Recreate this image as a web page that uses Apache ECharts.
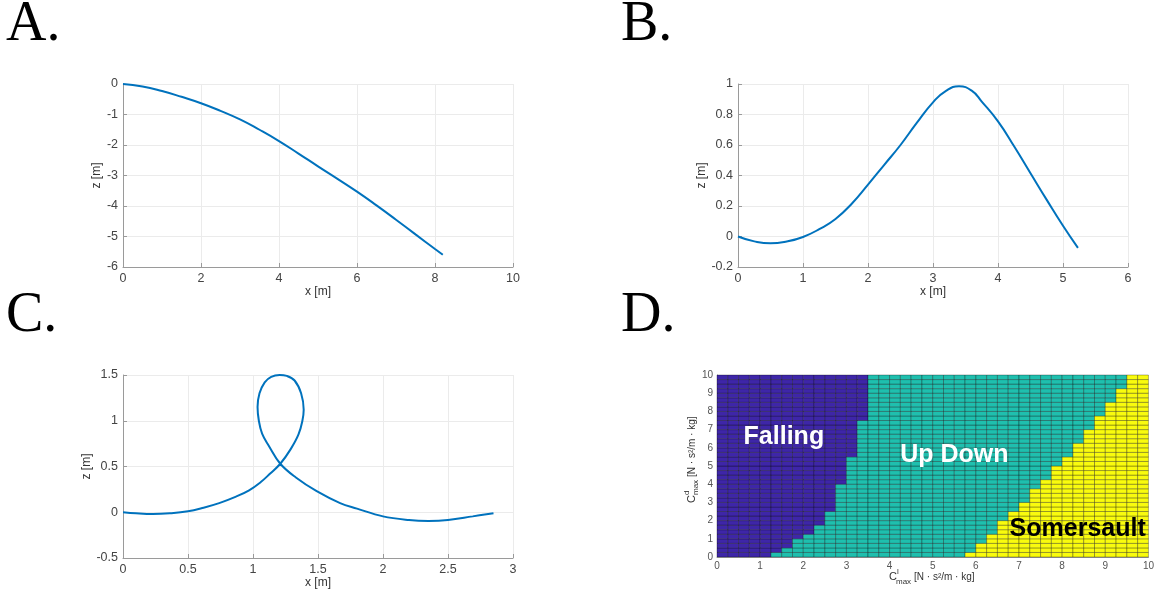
<!DOCTYPE html>
<html>
<head>
<meta charset="utf-8">
<script src="https://cdn.jsdelivr.net/npm/echarts@6/dist/echarts.min.js"></script>
<style>
  html, body { margin: 0; padding: 0; background: #fff; }
  #main { width: 1157px; height: 590px; }
</style>
</head>
<body>
<div id="main"></div>
<script>
// A. falling trajectory
const fallX = [0, 0.5, 1, 1.5, 2, 2.5, 3, 3.5, 4, 4.5, 5, 5.5, 6, 6.5, 7, 7.5, 8, 8.2];
const fallZ = [0, -0.08, -0.23, -0.42, -0.63, -0.88, -1.16, -1.5, -1.87, -2.28, -2.7, -3.11, -3.53, -3.98, -4.45, -4.93, -5.41, -5.6];

// B. up-down trajectory
const upDownX = [0, 0.25, 0.5, 0.75, 1, 1.25, 1.5, 1.75, 2, 2.25, 2.5, 2.75, 3, 3.2, 3.4, 3.6, 3.75, 4, 4.25, 4.5, 4.75, 5, 5.23];
const upDownZ = [0, -0.032, -0.045, -0.033, -0.003, 0.048, 0.115, 0.215, 0.34, 0.47, 0.6, 0.745, 0.88, 0.955, 0.985, 0.955, 0.885, 0.755, 0.59, 0.415, 0.24, 0.07, -0.075];

// C. somersault trajectory (points in path order, it loops)
const loopX = [0, 0.1, 0.23, 0.36, 0.5, 0.62, 0.74, 0.86, 0.97, 1.06, 1.13, 1.21, 1.29, 1.35, 1.38, 1.39, 1.37, 1.32, 1.26, 1.205,
               1.14, 1.09, 1.05, 1.035, 1.045, 1.07, 1.12, 1.21, 1.33, 1.49, 1.67, 1.8, 2.0, 2.2, 2.35, 2.5, 2.69, 2.85];
const loopZ = [0, -0.012, -0.02, -0.012, 0.01, 0.05, 0.1, 0.165, 0.24, 0.33, 0.42, 0.53, 0.69, 0.85, 1.0, 1.12, 1.3, 1.44, 1.49, 1.5,
               1.48, 1.42, 1.3, 1.15, 1.0, 0.86, 0.73, 0.53, 0.38, 0.23, 0.1, 0.04, -0.045, -0.085, -0.095, -0.085, -0.045, -0.01];

// D. regime map, one entry per row of C^d_max (step 0.25): C^l_max where each regime starts
const cellStep = 0.25;
const upDownStart = [1.25, 1.5, 1.75, 1.75, 2.0, 2.25, 2.25, 2.5, 2.5, 2.5,
                     2.75, 2.75, 2.75, 2.75, 2.75, 2.75, 3.0, 3.0, 3.0, 3.0,
                     3.0, 3.0, 3.25, 3.25, 3.25, 3.25, 3.25, 3.25, 3.25, 3.25,
                     3.5, 3.5, 3.5, 3.5, 3.5, 3.5, 3.5, 3.5, 3.5, 3.5];
const somersaultStart = [5.75, 6.0, 6.0, 6.25, 6.25, 6.5, 6.5, 6.5, 6.75, 6.75,
                         7.0, 7.0, 7.25, 7.25, 7.25, 7.5, 7.5, 7.75, 7.75, 7.75,
                         8.0, 8.0, 8.25, 8.25, 8.25, 8.5, 8.5, 8.5, 8.75, 8.75,
                         8.75, 9.0, 9.0, 9.0, 9.25, 9.25, 9.25, 9.5, 9.5, 9.5];
const regimeNames = ['Falling', 'Up Down', 'Somersault'];

function zip(xs, ys) {
    return xs.map(function (x, i) { return [x, ys[i]]; });
}

// build the cells of the map
const cells = [];
for (let r = 0; r < upDownStart.length; r++) {
    for (let c = 0; c < 10 / cellStep; c++) {
        const x = c * cellStep, y = r * cellStep;
        const k = x >= somersaultStart[r] ? 2 : (x >= upDownStart[r] ? 1 : 0);
        cells.push([x, y, k]);
    }
}
const cellColors = ['#3e26a8', '#1fbfae', '#f9fb0e'];

const gray = '#9a9a9a';
function lineAxis(gridIndex, min, max, step, name, gap) {
    return {
        type: 'value', gridIndex: gridIndex, min: min, max: max, interval: step,
        name: name, nameLocation: 'middle', nameGap: gap,
        nameTextStyle: {color: '#333', fontSize: 12, fontFamily: 'Liberation Sans'},
        axisLine: {show: true, onZero: false, lineStyle: {color: gray}},
        axisTick: {show: true, inside: true, length: 4, lineStyle: {color: gray}},
        splitLine: {show: true, lineStyle: {color: '#ebebeb'}},
        axisLabel: {color: '#444', fontSize: 12.5, fontFamily: 'Liberation Sans', margin: 5}
    };
}
function mapAxis(gridIndex) {
    return {
        type: 'value', gridIndex: gridIndex, min: 0, max: 10, interval: 1,
        axisLine: {show: true, onZero: false, lineStyle: {color: gray}},
        axisTick: {show: false},
        splitLine: {show: false},
        axisLabel: {color: '#555', fontSize: 10, fontFamily: 'Liberation Sans', margin: 4}
    };
}
function lineSeries(i, data, smooth) {
    return {
        type: 'line', xAxisIndex: i, yAxisIndex: i, data: data,
        showSymbol: false, smooth: smooth, silent: true,
        lineStyle: {color: '#0072bd', width: 2}
    };
}
function letter(t, x, y) {
    return {type: 'text', x: x, y: y, style: {text: t, font: '56px "Liberation Serif"', fill: '#000', textVerticalAlign: 'middle'}};
}
function small(t, x, y, size) {
    return {type: 'text', x: x, y: y, style: {text: t, font: size + 'px "Liberation Sans"', fill: '#333', textVerticalAlign: 'middle'}};
}

const myChart = echarts.init(document.getElementById('main'));
myChart.setOption({
    animation: false,
    backgroundColor: '#fff',
    grid: [
        {left: 123, top: 84, width: 390, height: 183},
        {left: 738, top: 84, width: 390, height: 183},
        {left: 123, top: 375, width: 390, height: 183},
        {left: 717, top: 375, width: 433, height: 182}
    ],
    xAxis: [
        lineAxis(0, 0, 10, 2, 'x [m]', 17),
        lineAxis(1, 0, 6, 1, 'x [m]', 17),
        lineAxis(2, 0, 3, 0.5, 'x [m]', 17),
        mapAxis(3)
    ],
    yAxis: [
        lineAxis(0, -6, 0, 1, 'z [m]', 16),
        lineAxis(1, -0.2, 1, 0.2, 'z [m]', 24),
        lineAxis(2, -0.5, 1.5, 0.5, 'z [m]', 25),
        mapAxis(3)
    ],
    series: [
        lineSeries(0, zip(fallX, fallZ), 0.5),
        lineSeries(1, zip(upDownX, upDownZ), 0.5),
        lineSeries(2, zip(loopX, loopZ), 0.4),
        {
            type: 'custom', xAxisIndex: 3, yAxisIndex: 3, silent: true,
            encode: {x: 0, y: 1},
            data: cells,
            renderItem: function (params, api) {
                const p0 = api.coord([api.value(0), api.value(1) + cellStep]);
                const p1 = api.coord([api.value(0) + cellStep, api.value(1)]);
                return {
                    type: 'rect',
                    shape: {x: p0[0], y: p0[1], width: p1[0] - p0[0], height: p1[1] - p0[1]},
                    style: {fill: cellColors[api.value(2)], stroke: 'rgba(0,0,0,0.6)', lineWidth: 0.5}
                };
            }
        },
        {
            type: 'scatter', xAxisIndex: 3, yAxisIndex: 3, silent: true,
            symbolSize: 1, itemStyle: {color: 'rgba(0,0,0,0)', opacity: 1},
            label: {
                show: true, position: 'inside', formatter: '{b}',
                fontSize: 25, fontWeight: 'bold', fontFamily: 'Liberation Sans'
            },
            data: [
                {name: regimeNames[0], value: [1.55, 6.6], label: {color: '#fff'}},
                {name: regimeNames[1], value: [5.5, 5.6], label: {color: '#fff'}},
                {name: regimeNames[2], value: [8.36, 1.55], label: {color: '#000'}}
            ]
        }
    ],
    graphic: [
        letter('A.', 6, 25),
        letter('B.', 621, 25),
        letter('C.', 6, 316),
        letter('D.', 621, 316),
        // x title of the map: C^l_max [N · s²/m · kg]
        small('C', 889, 577, 11),
        small('l', 897, 572, 8),
        small('max', 896, 582, 8),
        small('[N · s²/m · kg]', 914, 577, 10),
        // y title of the map, rotated
        {
            type: 'group', x: 692, y: 463, rotation: Math.PI / 2,
            children: [
                small('C', -40, 0, 11),
                small('d', -32, -5, 8),
                small('max', -32, 4, 8),
                small('[N · s²/m · kg]', -14, 0, 10)
            ]
        }
    ]
});
</script>
</body>
</html>
